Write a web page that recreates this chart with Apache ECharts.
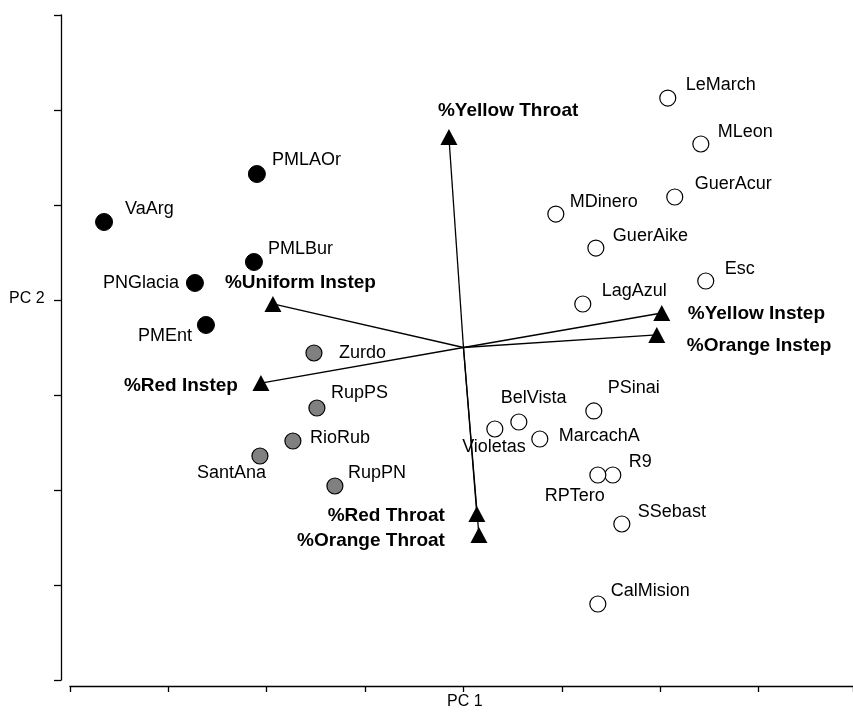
<!DOCTYPE html>
<html>
<head>
<meta charset="utf-8">
<script src="https://cdn.jsdelivr.net/npm/echarts@6/dist/echarts.min.js"></script>
<style>html,body{margin:0;padding:0;background:#fff}#c{width:853px;height:713px}</style>
</head>
<body>
<div id="c"></div>
<script>
// ---- Data (PC1, PC2 scores in plot units; biplot origin at (4, 3.5)) ----
const groupA_names = ['VaArg','PMLAOr','PMLBur','PNGlacia','PMEnt'];
const groupA_pc1 = [0.346, 1.900, 1.870, 1.270, 1.382];
const groupA_pc2 = [4.821, 5.326, 4.400, 4.179, 3.737];

const groupB_names = ['Zurdo','RupPS','RioRub','SantAna','RupPN'];
const groupB_pc1 = [2.480, 2.510, 2.266, 1.931, 2.693];
const groupB_pc2 = [3.442, 2.863, 2.516, 2.358, 2.042];

const groupC_names = ['LeMarch','MLeon','GuerAcur','MDinero','GuerAike','Esc','LagAzul','PSinai','BelVista','Violetas','MarcachA','R9','RPTero','SSebast','CalMision'];
const groupC_pc1 = [6.077, 6.413, 6.148, 4.939, 5.346, 6.463, 5.213, 5.325, 4.563, 4.319, 4.776, 5.518, 5.366, 5.610, 5.366];
const groupC_pc2 = [6.126, 5.642, 5.084, 4.905, 4.547, 4.200, 3.958, 2.832, 2.716, 2.642, 2.537, 2.158, 2.158, 1.642, 0.800];

const origin = [4.0, 3.5];
const vector_names = ['%Yellow Throat','%Uniform Instep','%Red Instep','%Yellow Instep','%Orange Instep','%Red Throat','%Orange Throat'];
const vector_pc1 = [3.852, 2.063, 1.941, 6.016, 5.965, 4.136, 4.157];
const vector_pc2 = [5.716, 3.958, 3.126, 3.863, 3.632, 1.747, 1.526];

// ---- Label layout (pixel offsets from the marker centre) ----
const labelLayout = {
  VaArg:[21,-13,'left'], PMLAOr:[15,-14,'left'], PMLBur:[14,-13,'left'], PNGlacia:[-16,0,'right'], PMEnt:[-14,11,'right'],
  Zurdo:[25,0,'left'], RupPS:[14,-15,'left'], RioRub:[17,-3,'left'], SantAna:[6,17,'right'], RupPN:[13,-13,'left'],
  LeMarch:[18,-13,'left'], MLeon:[17,-12,'left'], GuerAcur:[20,-13,'left'], MDinero:[14,-12,'left'], GuerAike:[17,-12,'left'],
  Esc:[19,-12,'left'], LagAzul:[19,-13,'left'], PSinai:[14,-23,'left'], BelVista:[-18,-24,'left'], Violetas:[31,18,'right'],
  MarcachA:[19,-3,'left'], R9:[16,-13,'left'], RPTero:[7,21,'right'], SSebast:[16,-12,'left'], CalMision:[13,-13,'left'],
  '%Yellow Throat':[-11,-26,'left'], '%Uniform Instep':[-48,-21,'left'], '%Red Instep':[-23,3,'right'],
  '%Yellow Instep':[26,1,'left'], '%Orange Instep':[30,11,'left'], '%Red Throat':[-32,2,'right'], '%Orange Throat':[-34,6,'right']
};

const font = 'Liberation Sans, Arial, sans-serif';
function pts(names, xs, ys, bold) {
  return names.map((n, i) => {
    const l = labelLayout[n];
    return {
      name: n, value: [xs[i], ys[i]],
      label: {
        show: true, formatter: n, position: 'inside', offset: [l[0], l[1]], align: l[2], verticalAlign: 'middle',
        color: '#000', opacity: 1, fontFamily: font,
        fontSize: bold ? 19 : 18, fontWeight: bold ? 'bold' : 'normal', textBorderWidth: 0
      }
    };
  });
}

const chart = echarts.init(document.getElementById('c'), null, {renderer: 'canvas'});
const axisCommon = {
  axisLabel: {show: false}, splitLine: {show: false}
};
chart.setOption({
  animation: false,
  backgroundColor: '#fff',
  grid: {left: 70, right: 0, top: 15, bottom: 33},
  xAxis: Object.assign({
    type: 'value', min: 0, max: 7.96, interval: 1, offset: 6,
    axisLine: {show: true, onZero: false, lineStyle: {color: '#000', width: 1.3}},
    axisTick: {show: true, inside: false, length: 6, lineStyle: {color: '#000', width: 1.3}}
  }, axisCommon),
  yAxis: Object.assign({
    type: 'value', min: 0, max: 7, interval: 1, offset: 9,
    axisLine: {show: true, onZero: false, lineStyle: {color: '#000', width: 1.3}},
    axisTick: {show: true, inside: false, length: 7, lineStyle: {color: '#000', width: 1.3}}
  }, axisCommon),
  graphic: [
    {type: 'text', left: 9, top: 291, style: {text: 'PC 2', font: '16px ' + font, fill: '#000'}},
    {type: 'text', left: 447, top: 694, style: {text: 'PC 1', font: '16px ' + font, fill: '#000'}}
  ],
  series: [
    {
      type: 'lines', coordinateSystem: 'cartesian2d', silent: true, z: 1,
      lineStyle: {color: '#000', width: 1.3, opacity: 1},
      data: vector_names.map((n, i) => ({coords: [origin, [vector_pc1[i], vector_pc2[i]]]}))
    },
    {
      type: 'scatter', symbol: 'triangle', symbolSize: [17, 16], z: 3, silent: true,
      itemStyle: {color: '#000', opacity: 1},
      data: pts(vector_names, vector_pc1, vector_pc2, true)
    },
    {
      type: 'scatter', symbol: 'circle', symbolSize: 17, z: 3, silent: true,
      itemStyle: {color: '#000', borderColor: '#000', borderWidth: 1, opacity: 1},
      data: pts(groupA_names, groupA_pc1, groupA_pc2, false)
    },
    {
      type: 'scatter', symbol: 'circle', symbolSize: 16, z: 3, silent: true,
      itemStyle: {color: '#808080', borderColor: '#000', borderWidth: 1.2, opacity: 1},
      data: pts(groupB_names, groupB_pc1, groupB_pc2, false)
    },
    {
      type: 'scatter', symbol: 'circle', symbolSize: 16, z: 3, silent: true,
      itemStyle: {color: '#fff', borderColor: '#000', borderWidth: 1.2, opacity: 1},
      data: pts(groupC_names, groupC_pc1, groupC_pc2, false)
    }
  ]
});
</script>
</body>
</html>
